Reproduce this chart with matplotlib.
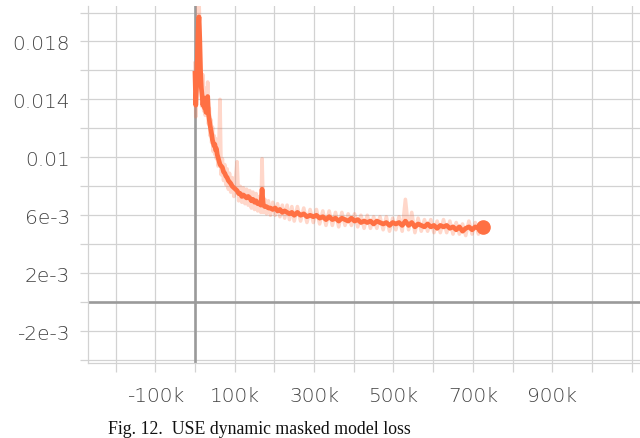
import matplotlib
matplotlib.use("Agg")
import matplotlib.pyplot as plt
from matplotlib.ticker import FixedLocator, FixedFormatter

# ---- data (steps in thousands, values in 1e-3) ----
steps_k = [0, 2, 4, 6, 8, 10, 12, 14, 16, 18, 20, 22, 24, 26, 28, 30, 32, 34, 36, 38,
           40, 42, 44, 46, 48, 50, 52, 54, 56, 58, 60, 63, 66, 69, 72, 75, 78, 81, 84, 87,
           90, 94, 98, 102, 106, 110, 114, 118, 122, 126, 130, 134, 138, 142, 146, 150, 154, 158, 162, 166,
           169, 172, 176, 180, 185, 190, 196, 202, 208, 214, 220, 226, 232, 238, 244, 250, 258, 266, 274, 282,
           290, 298, 306, 314, 322, 330, 338, 346, 354, 362, 370, 378, 386, 394, 402, 410, 418, 426, 434, 442,
           450, 458, 466, 474, 482, 490, 498, 506, 514, 522, 530, 538, 546, 554, 562, 570, 578, 586, 594, 602,
           610, 618, 626, 634, 642, 650, 658, 666, 674, 682, 690, 698, 706, 714, 722, 726]

smoothed = [15.8, 13.6, 14.9, 16.8, 18.9, 19.7, 18.2, 16.0, 14.8, 14.2, 13.6, 14.1, 13.4, 13.7, 13.1, 13.9, 14.2, 13.0, 12.6, 12.2,
            11.9, 11.6, 11.2, 11.0, 10.8, 10.9, 10.5, 10.6, 10.2, 10.0, 9.8, 9.5, 9.4, 9.3, 9.0, 8.9, 8.7, 8.6, 8.4, 8.3,
            8.2, 8.0, 7.9, 7.8, 7.7, 7.5, 7.5, 7.3, 7.4, 7.3, 7.2, 7.3, 7.2, 7.0, 7.1, 6.9, 7.0, 6.8, 6.8, 6.7,
            7.8, 6.7, 6.6, 6.6, 6.5, 6.5, 6.4, 6.5, 6.3, 6.4, 6.2, 6.3, 6.2, 6.1, 6.2, 6.0, 6.2, 6.0, 6.1, 5.9,
            6.0, 5.9, 6.0, 5.8, 5.9, 5.7, 5.9, 5.7, 5.8, 5.6, 5.8, 5.7, 5.6, 5.8, 5.6, 5.7, 5.5, 5.6, 5.5, 5.6,
            5.4, 5.6, 5.5, 5.4, 5.5, 5.3, 5.5, 5.4, 5.5, 5.3, 5.6, 5.3, 5.5, 5.2, 5.4, 5.3, 5.2, 5.4, 5.2, 5.3,
            5.1, 5.3, 5.2, 5.3, 5.1, 5.2, 5.0, 5.2, 4.9, 5.1, 5.2, 5.0, 5.2, 5.1, 5.2, 5.2]

raw = [16.5, 12.8, 15.6, 17.9, 20.6, 21.0, 19.0, 15.2, 15.8, 13.5, 15.7, 13.2, 14.8, 12.9, 14.4, 13.1, 15.2, 12.3, 13.4, 11.5,
       12.6, 11.0, 12.1, 10.4, 11.5, 10.2, 11.3, 9.9, 10.9, 9.4, 10.5, 14.0, 8.8, 9.9, 8.4, 9.5, 8.1, 9.2, 7.8, 8.9,
       7.6, 8.6, 7.3, 8.4, 9.7, 7.0, 8.0, 6.9, 7.9, 6.8, 7.8, 6.7, 7.7, 6.5, 7.6, 6.4, 7.5, 6.3, 7.3, 6.2,
       9.9, 6.2, 7.1, 6.1, 7.0, 6.0, 6.9, 6.0, 6.8, 5.9, 6.7, 5.8, 6.7, 5.7, 6.6, 5.6, 6.6, 5.6, 6.5, 5.5,
       6.4, 5.5, 6.4, 5.4, 6.3, 5.3, 6.3, 5.3, 6.2, 5.2, 6.2, 5.3, 6.1, 5.3, 6.1, 5.2, 6.0, 5.1, 6.0, 5.1,
       5.9, 5.1, 5.9, 5.0, 5.9, 4.9, 5.8, 5.0, 5.9, 4.9, 7.1, 5.0, 6.2, 4.8, 5.8, 4.9, 5.7, 4.9, 5.7, 4.8,
       5.6, 4.8, 5.7, 4.8, 5.6, 4.7, 5.5, 4.7, 5.4, 4.6, 5.6, 4.7, 5.5, 4.7, 5.5, 5.2]

x_ticks_k = [-200, -100, 0, 100, 200, 300, 400, 500, 600, 700, 800, 900, 1000, 1100]
x_labels = ["", "-100k", "", "100k", "", "300k", "", "500k", "", "700k", "", "900k", "", ""]
y_ticks = [-0.004, -0.002, 0.0, 0.002, 0.004, 0.006, 0.008, 0.010, 0.012, 0.014, 0.016, 0.018, 0.020]
y_labels = ["", "-2e-3", "", "2e-3", "", "6e-3", "", "0.01", "", "0.014", "", "0.018", ""]

caption = "Fig. 12.  USE dynamic masked model loss"

# ---- figure ----
line_color = "#ff7043"
grid_color = "#d2d2d2"
zero_color = "#9a9a9a"
text_color = "#444444"

fig = plt.figure(figsize=(6.4, 4.39), dpi=100)
ax = fig.add_axes([88 / 640, 1 - 364 / 439, 1 - 88 / 640, (364 - 7) / 439])

xs = [k * 1000 for k in steps_k]
ax.plot(xs, [v * 1e-3 for v in raw], color=line_color, alpha=0.28, lw=2.6, zorder=3)
ax.plot(xs, [v * 1e-3 for v in smoothed], color=line_color, lw=3.4, zorder=4,
        solid_joinstyle="round")
ax.plot([xs[-1]], [smoothed[-1] * 1e-3], "o", color=line_color, ms=9.5, zorder=5)

ax.set_xlim(-269500, 1121000)
ax.set_ylim(-0.0042, 0.02045)

ax.xaxis.set_major_locator(FixedLocator([k * 1000 for k in x_ticks_k]))
ax.xaxis.set_major_formatter(FixedFormatter(x_labels))
ax.yaxis.set_major_locator(FixedLocator(y_ticks))
ax.yaxis.set_major_formatter(FixedFormatter(y_labels))

ax.grid(True, color=grid_color, lw=0.9, zorder=1)
ax.axhline(0, color=zero_color, lw=1.9, zorder=2)
ax.axvline(0, color=zero_color, lw=1.9, zorder=2)

for s in ["top", "right"]:
    ax.spines[s].set_visible(False)
for s in ["left", "bottom"]:
    ax.spines[s].set_color(grid_color)
    ax.spines[s].set_linewidth(0.9)

ax.tick_params(axis="x", length=6.5, width=0.9, color=grid_color, pad=10,
               labelsize=14.5, labelcolor=text_color)
ax.tick_params(axis="y", length=6, width=0.9, color=grid_color, pad=7,
               labelsize=14.5, labelcolor=text_color)
for lbl in ax.get_xticklabels() + ax.get_yticklabels():
    lbl.set_fontweight("light")

fig.text(108 / 640, 5 / 439, caption, family="Liberation Serif", fontsize=12.8,
         color="#111111", ha="left", va="baseline")

fig.savefig("out.png", dpi=100)
